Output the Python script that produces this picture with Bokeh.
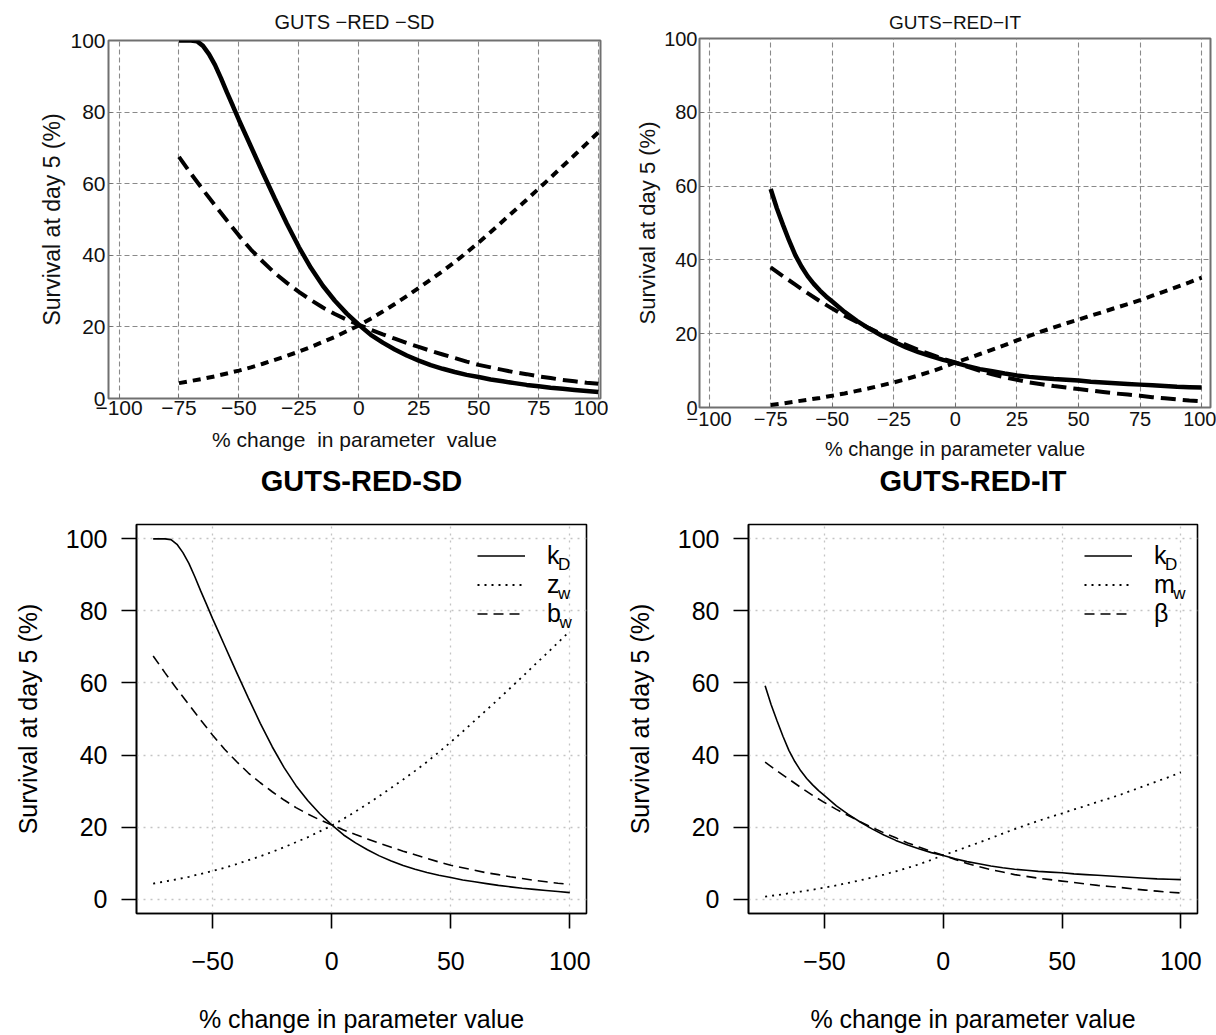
from bokeh.plotting import figure
from bokeh.layouts import column, row
from bokeh.models import Range1d, Legend, LegendItem, Label, Title
from bokeh.embed import file_html
from bokeh.resources import INLINE

# ---------------- data ----------------
pct_change = [-75, -70, -65, -60, -55, -50, -45, -40, -35, -30, -25, -20, -15, -10, -5, 0,
              5, 10, 15, 20, 25, 30, 35, 40, 45, 50, 55, 60, 65, 70, 75, 80, 85, 90, 95, 100]

# GUTS-RED-SD
sd_kd_x = [-75, -72.5, -70, -67.5, -65, -62.5, -60, -57.5, -55, -52.5, -50, -47.5, -45, -42.5, -40,
           -35, -30, -25, -20, -15, -10, -5, 0, 5, 10, 15, 20, 25, 30, 35, 40, 45, 50,
           55, 60, 65, 70, 75, 80, 85, 90, 95, 100]
sd_kd = [100.0, 100.0, 100.0, 99.8, 98.5, 96.2, 93.2, 89.5, 85.5, 81.7, 77.8, 74.1, 70.4, 66.7, 63.0,
         55.8, 48.8, 42.3, 36.5, 31.5, 27.3, 23.7, 20.6, 17.8, 15.6, 13.7, 12.0, 10.6, 9.3, 8.3, 7.4, 6.6, 6.0,
         5.3, 4.8, 4.3, 3.8, 3.4, 3.0, 2.7, 2.4, 2.1, 1.8]
sd_zw = [4.3, 4.9, 5.5, 6.2, 7.0, 7.8, 8.7, 9.7, 10.8, 11.9, 13.1, 14.4, 15.8, 17.2, 18.8, 20.4,
         22.3, 24.3, 26.4, 28.6, 30.9, 33.2, 35.6, 38.1, 40.8, 43.6, 46.5, 49.5, 52.5, 55.5, 58.6, 61.7, 64.9, 68.0, 71.2, 74.4]
sd_bw = [67.5, 62.8, 58.3, 54.0, 49.7, 45.5, 41.6, 38.2, 35.0, 32.3, 29.8, 27.5, 25.4, 23.6, 22.0, 20.6,
         19.2, 17.9, 16.7, 15.5, 14.4, 13.3, 12.3, 11.3, 10.3, 9.4, 8.7, 8.0, 7.3, 6.8, 6.2, 5.7, 5.2, 4.8, 4.4, 4.1]

# GUTS-RED-IT
it_kd_x = [-75, -72.5, -70, -67.5, -65, -62.5, -60, -57.5, -55, -52.5, -50,
           -45, -40, -35, -30, -25, -20, -15, -10, -5, 0, 5, 10, 15, 20, 25, 30, 35, 40, 45, 50,
           55, 60, 65, 70, 75, 80, 85, 90, 95, 100]
it_kd = [59.2, 54.0, 49.5, 45.2, 41.3, 38.2, 35.6, 33.5, 31.7, 30.1, 28.7,
         25.9, 23.5, 21.4, 19.5, 17.8, 16.3, 15.0, 13.9, 12.9, 12.1, 11.2, 10.4, 9.8, 9.2, 8.7, 8.3, 8.0, 7.7, 7.5, 7.3,
         7.0, 6.8, 6.6, 6.4, 6.2, 6.0, 5.8, 5.6, 5.5, 5.4]
it_mw = [0.7, 1.1, 1.6, 2.1, 2.6, 3.2, 3.8, 4.5, 5.2, 6.0, 6.8, 7.7, 8.7, 9.7, 10.9, 12.2,
         13.3, 14.5, 15.7, 16.9, 18.2, 19.4, 20.6, 21.7, 22.8, 23.8, 24.9, 25.9, 27.0, 28.0, 29.1, 30.3, 31.5, 32.7, 33.9, 35.2]
it_beta = [38.0, 35.6, 33.3, 31.0, 28.8, 26.8, 24.9, 23.2, 21.5, 19.9, 18.4, 17.0, 15.6, 14.4, 13.2, 12.2,
           11.0, 9.9, 9.0, 8.2, 7.5, 6.8, 6.3, 5.8, 5.4, 5.0, 4.6, 4.2, 3.8, 3.5, 3.2, 2.8, 2.5, 2.2, 1.9, 1.7]

top_x_ticks = [-100, -75, -50, -25, 0, 25, 50, 75, 100]
top_y_ticks = [0, 20, 40, 60, 80, 100]
bottom_x_ticks = [-50, 0, 50, 100]
bottom_y_ticks = [0, 20, 40, 60, 80, 100]

sd_title_top = "GUTS \u2212RED \u2212SD"
it_title_top = "GUTS\u2212RED\u2212IT"
sd_title = "GUTS-RED-SD"
it_title = "GUTS-RED-IT"
y_label = "Survival at day 5 (%)"
x_label = "% change in parameter value"
x_label_wide = "% change\u00a0 in parameter\u00a0 value"
sd_legend = [("k", "D"), ("z", "w"), ("b", "w")]
it_legend = [("k", "D"), ("m", "w"), ("\u03b2", "")]

FONT = "Liberation Sans"
MINUS = "\u2212"
W = 608
H_TOP = 462
H_BOT = 573


def minus_labels(ticks):
    return {t: str(t).replace("-", MINUS) for t in ticks}


def top_panel(title, kd_x, kd, dotted, dashed, *, left, right, top, bottom, xr, tick_fs, lab_fs, ylab_fs,
              title_fs, title_standoff, xtick_standoff, ytick_standoff, xlab_standoff, ylab_standoff, xlab):
    p = figure(width=W, height=H_TOP, x_range=Range1d(*xr), y_range=Range1d(0, 100),
               output_backend="svg", toolbar_location=None,
               min_border_left=left, min_border_right=W - right,
               min_border_top=top, min_border_bottom=H_TOP - bottom)
    p.frame_align = False
    p.title.text = title
    p.title.align = "center"
    p.title.text_font = FONT
    p.title.text_font_size = f"{title_fs}px"
    p.title.text_font_style = "normal"
    p.title.text_color = "#111111"
    p.title.standoff = title_standoff
    p.outline_line_color = "#707070"
    p.outline_line_width = 2
    p.background_fill_color = "white"
    p.border_fill_color = "white"

    for g, ticks in ((p.xgrid, top_x_ticks), (p.ygrid, top_y_ticks)):
        g.ticker = ticks
        g.grid_line_color = "#8a8a8a"
        g.grid_line_dash = "5 3"
        g.grid_line_width = 1.1
    p.xaxis.ticker = top_x_ticks
    p.yaxis.ticker = top_y_ticks
    p.xaxis.major_label_overrides = minus_labels(top_x_ticks)
    for ax in (p.xaxis[0], p.yaxis[0]):
        ax.axis_line_color = None
        ax.major_tick_in = 4
        ax.major_tick_out = 0
        ax.major_tick_line_color = "#707070"
        ax.minor_tick_line_color = None
        ax.major_label_text_font = FONT
        ax.major_label_text_font_size = f"{tick_fs}px"
        ax.major_label_text_color = "#111111"
        ax.axis_label_text_font = FONT
        ax.axis_label_text_font_style = "normal"
        ax.axis_label_text_color = "#111111"
    p.xaxis.major_label_standoff = xtick_standoff
    p.yaxis.major_label_standoff = ytick_standoff
    p.xaxis.axis_label = xlab
    p.yaxis.axis_label = y_label
    p.xaxis.axis_label_text_font_size = f"{lab_fs}px"
    p.yaxis.axis_label_text_font_size = f"{ylab_fs}px"
    p.xaxis.axis_label_standoff = xlab_standoff
    p.yaxis.axis_label_standoff = ylab_standoff

    p.line(pct_change, dotted, line_color="black", line_width=4, line_dash="8 6")
    p.line(pct_change, dashed, line_color="black", line_width=4, line_dash="15 7")
    p.line(kd_x, kd, line_color="black", line_width=4.5)
    return p


def bottom_panel(title, kd_x, kd, dotted, dashed, legend_entries, *, left, right, label_w):
    top, bottom = 61, 451
    xr = (-82, 107)
    yr = (-4, 104)
    p = figure(width=W, height=H_BOT, x_range=Range1d(*xr), y_range=Range1d(*yr),
               output_backend="svg", toolbar_location=None,
               min_border_left=left, min_border_right=W - right,
               min_border_top=top, min_border_bottom=H_BOT - bottom)
    p.frame_align = False
    p.outline_line_color = "black"
    p.outline_line_width = 1.6
    p.background_fill_color = "white"
    p.border_fill_color = "white"

    # blank spacer panel between the frame and the bold title (first added = nearest the frame)
    p.add_layout(Title(text=" ", text_font_size="10px", standoff=15), "above")
    p.add_layout(Title(text=title, align="center", vertical_align="bottom", standoff=0,
                       text_font=FONT, text_font_size="29px", text_font_style="bold",
                       text_color="black"), "above")

    for g, ticks in ((p.xgrid, bottom_x_ticks), (p.ygrid, bottom_y_ticks)):
        g.ticker = ticks
        g.grid_line_color = "#c4c4c4"
        g.grid_line_dash = "2 5"
        g.grid_line_width = 1.3
    p.xaxis.ticker = bottom_x_ticks
    p.yaxis.ticker = bottom_y_ticks
    for ax in (p.xaxis[0], p.yaxis[0]):
        ax.axis_line_color = "black"
        ax.axis_line_width = 1.6
        ax.major_tick_in = 0
        ax.major_tick_out = 15
        ax.major_tick_line_width = 1.6
        ax.major_tick_line_color = "black"
        ax.minor_tick_line_color = None
        ax.major_label_text_font = FONT
        ax.major_label_text_font_size = "25px"
        ax.major_label_text_color = "black"
        ax.axis_label_text_font = FONT
        ax.axis_label_text_font_size = "25px"
        ax.axis_label_text_font_style = "normal"
        ax.axis_label_text_color = "black"
    p.xaxis.major_label_standoff = 23
    p.yaxis.major_label_standoff = 14
    p.xaxis.axis_label = x_label
    p.yaxis.axis_label = y_label
    p.xaxis.axis_label_standoff = 32
    p.yaxis.axis_label_standoff = 21

    r1 = p.line(kd_x, kd, line_color="black", line_width=1.6)
    r2 = p.line(pct_change, dotted, line_color="black", line_width=1.8, line_dash="2 5")
    r3 = p.line(pct_change, dashed, line_color="black", line_width=1.6, line_dash="10 6")

    pad = 19
    row_h = 29
    items = [LegendItem(label=main, renderers=[r]) for (main, _), r in zip(legend_entries, (r1, r2, r3))]
    leg = Legend(items=items, location="top_right", margin=17, padding=pad, spacing=0,
                 border_line_color=None, background_fill_alpha=0,
                 glyph_width=48, glyph_height=row_h, label_height=row_h, label_width=label_w,
                 label_standoff=22, label_text_font=FONT, label_text_font_size="25px",
                 label_text_color="black")
    p.add_layout(leg)

    main_w = {"k": 12.5, "z": 12.5, "b": 13.9, "m": 20.8, "\u03b2": 14.0}
    for i, (main, sub) in enumerate(legend_entries):
        if not sub:
            continue
        x_off = -(pad + label_w) + main_w[main]
        y_off = -(pad + row_h * i + row_h / 2 + 6)
        p.add_layout(Label(x=xr[1], y=yr[1], x_offset=x_off, y_offset=y_off, text=sub,
                           text_font=FONT, text_font_size="17px", text_color="black",
                           text_baseline="middle", text_align="left"))
    return p


p1 = top_panel(sd_title_top, sd_kd_x, sd_kd, sd_zw, sd_bw, left=108, right=600, top=40, bottom=398,
               xr=(-104.4, 100.8), tick_fs=21, lab_fs=21, ylab_fs=23, title_fs=20,
               title_standoff=16, xtick_standoff=2, ytick_standoff=3, xlab_standoff=10,
               ylab_standoff=2, xlab=x_label_wide)
p2 = top_panel(it_title_top, it_kd_x, it_kd, it_mw, it_beta, left=91, right=602, top=38, bottom=407,
               xr=(-103.9, 103.6), tick_fs=20, lab_fs=20, ylab_fs=22, title_fs=19,
               title_standoff=12, xtick_standoff=4, ytick_standoff=2, xlab_standoff=9,
               ylab_standoff=1, xlab=x_label)
p3 = bottom_panel(sd_title, sd_kd_x, sd_kd, sd_zw, sd_bw, sd_legend, left=136, right=586, label_w=22)
p4 = bottom_panel(it_title, it_kd_x, it_kd, it_mw, it_beta, it_legend, left=140, right=589, label_w=26)

layout = column(row(p1, p2), row(p3, p4))
open("out.html", "w").write(file_html(layout, INLINE))
